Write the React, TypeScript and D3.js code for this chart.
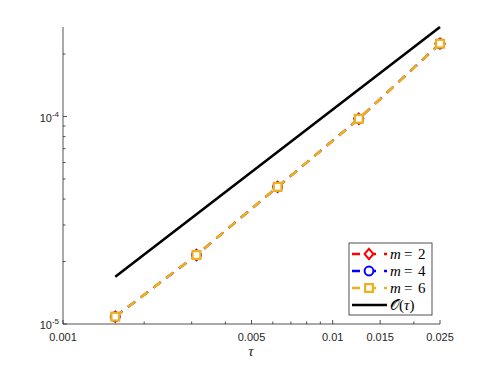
import React from 'react';
import * as d3 from 'd3';

// time steps and errors
const tau = [0.0015625, 0.003125, 0.00625, 0.0125, 0.025];
const errM2 = [1.085e-5, 2.15e-5, 4.58e-5, 9.75e-5, 2.245e-4];
const errM4 = [1.085e-5, 2.15e-5, 4.58e-5, 9.75e-5, 2.245e-4];
const errM6 = [1.085e-5, 2.15e-5, 4.58e-5, 9.75e-5, 2.245e-4];
const refTau = [0.0015625, 0.025];
const refOrder = [1.69e-5, 2.7e-4];

const xTickLabels = [0.001, 0.005, 0.01, 0.015, 0.025];
const xMinorTicks = [0.002, 0.003, 0.004, 0.006, 0.007, 0.008, 0.009, 0.02];
const yTickPowers = [-5, -4];
const yMinorTicks = [2e-5, 3e-5, 4e-5, 5e-5, 6e-5, 7e-5, 8e-5, 9e-5, 2e-4];

const legendItems = [
  { label: '2', color: '#ff0000', marker: 'diamond' },
  { label: '4', color: '#0000ff', marker: 'circle' },
  { label: '6', color: '#EDB120', marker: 'square' },
];

const W = 486;
const H = 365;
const axisColor = '#262626';
const sans = '"Liberation Sans", Arial, sans-serif';
const serif = '"Liberation Serif", "DejaVu Serif", serif';

function Marker({ kind, x, y, color }: { kind: string; x: number; y: number; color: string }) {
  if (kind === 'diamond') {
    const r = 5.2;
    return (
      <path
        d={`M${x},${y - r}L${x + r * 0.85},${y}L${x},${y + r}L${x - r * 0.85},${y}Z`}
        fill="#fff"
        stroke={color}
        strokeWidth={2}
      />
    );
  }
  if (kind === 'circle') {
    return <circle cx={x} cy={y} r={4.4} fill="#fff" stroke={color} strokeWidth={2} />;
  }
  return <rect x={x - 3.9} y={y - 3.9} width={7.8} height={7.8} fill="#fff" stroke={color} strokeWidth={2.3} />;
}

export default function App() {
  const x = d3.scaleLog().domain([0.001, 0.025]).range([63, 440]);
  const y = d3.scaleLog().domain([1e-5, 2.7e-4]).range([324, 27]);
  const line = d3
    .line<number>()
    .x((_, i) => x(tau[i]))
    .y((d) => y(d));
  const refLine = d3
    .line<number>()
    .x((_, i) => x(refTau[i]))
    .y((d) => y(d));

  const series = [errM2, errM4, errM6];
  const x0 = x.range()[0];
  const y0 = y.range()[0];

  // legend box
  const lx = 349;
  const ly = 243;
  const lw = 83;
  const lh = 72;
  const rowY = (i: number) => ly + 11 + i * 17;

  return (
    <svg width={W} height={H} style={{ position: 'absolute', left: 0, top: 0, background: '#fff' }}>
      {/* axes */}
      <line x1={x0} x2={x.range()[1]} y1={y0} y2={y0} stroke={axisColor} strokeWidth={0.8} />
      <line x1={x0} x2={x0} y1={y.range()[0]} y2={y.range()[1]} stroke={axisColor} strokeWidth={0.8} />
      {xTickLabels.map((t) => (
        <g key={'xt' + t}>
          <line x1={x(t)} x2={x(t)} y1={y0} y2={y0 - 4} stroke={axisColor} strokeWidth={0.8} />
          <text x={x(t)} y={y0 + 17} textAnchor="middle" fontFamily={sans} fontSize={11} fill={axisColor}>
            {String(t)}
          </text>
        </g>
      ))}
      {xMinorTicks.map((t) => (
        <line key={'xm' + t} x1={x(t)} x2={x(t)} y1={y0} y2={y0 - 2.5} stroke={axisColor} strokeWidth={0.8} />
      ))}
      {yTickPowers.map((p) => (
        <g key={'yt' + p}>
          <line x1={x0} x2={x0 + 4} y1={y(Math.pow(10, p))} y2={y(Math.pow(10, p))} stroke={axisColor} strokeWidth={0.8} />
          <text x={59} y={y(Math.pow(10, p)) + 5} textAnchor="end" fontFamily={sans} fontSize={11} fill={axisColor}>
            10
            <tspan dy={-5} fontSize={8}>
              {'-' + Math.abs(p)}
            </tspan>
          </text>
        </g>
      ))}
      {yMinorTicks.map((t) => (
        <line key={'ym' + t} x1={x0} x2={x0 + 2.5} y1={y(t)} y2={y(t)} stroke={axisColor} strokeWidth={0.8} />
      ))}
      <text x={251} y={356} textAnchor="middle" fontFamily={serif} fontStyle="italic" fontSize={15} fill={axisColor}>
        τ
      </text>

      {/* reference slope */}
      <path d={refLine(refOrder) || ''} fill="none" stroke="#000" strokeWidth={2.6} />

      {/* error curves */}
      {series.map((s, k) => (
        <g key={'s' + k}>
          <path
            d={line(s) || ''}
            fill="none"
            stroke={legendItems[k].color}
            strokeWidth={k === 2 ? 2.7 : 2.2}
            strokeDasharray="9,7"
          />
          {s.map((v, i) => (
            <Marker key={i} kind={legendItems[k].marker} x={x(tau[i])} y={y(v)} color={legendItems[k].color} />
          ))}
        </g>
      ))}

      {/* legend */}
      <rect x={lx} y={ly} width={lw} height={lh} fill="#fff" stroke={axisColor} strokeWidth={0.8} />
      {legendItems.map((it, i) => (
        <g key={'lg' + i}>
          <line x1={352} x2={387} y1={rowY(i)} y2={rowY(i)} stroke={it.color} strokeWidth={2.5} strokeDasharray="8,8" />
          <Marker kind={it.marker} x={369} y={rowY(i)} color={it.color} />
          <text y={rowY(i) + 5} fontFamily={serif} fontSize={15} fill="#000">
            <tspan x={390} fontStyle="italic">m</tspan>
            <tspan x={404}>=</tspan>
            <tspan x={418}>{it.label}</tspan>
          </text>
        </g>
      ))}
      <line x1={352} x2={387} y1={rowY(3)} y2={rowY(3)} stroke="#000" strokeWidth={2.6} />
      <text x={390} y={rowY(3) + 5} fontFamily={serif} fontSize={15} fill="#000">
        𝒪(<tspan fontStyle="italic">τ</tspan>)
      </text>
    </svg>
  );
}
